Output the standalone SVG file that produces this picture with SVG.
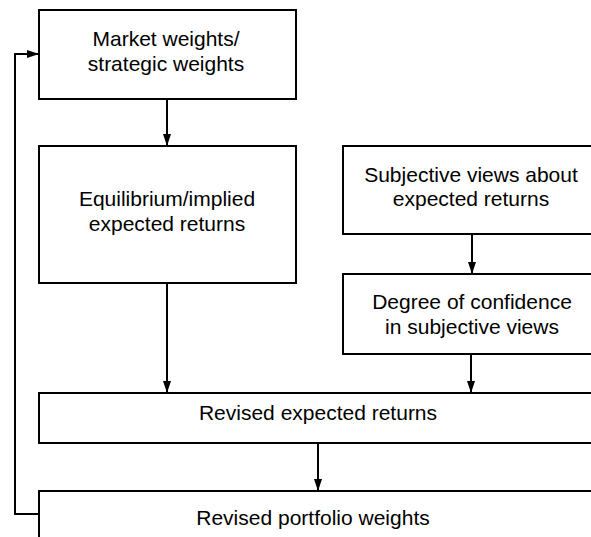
<svg xmlns="http://www.w3.org/2000/svg" width="591" height="537" viewBox="0 0 591 537">
<style>
.box{fill:#fff;stroke:#000;stroke-width:2}
.t{font-family:"Liberation Sans",Arial,sans-serif;font-size:21px;fill:#000;text-anchor:middle}
.c{fill:none;stroke:#000;stroke-width:2}
</style>
<defs>
<marker id="ah" markerUnits="userSpaceOnUse" markerWidth="13" markerHeight="9" refX="12" refY="4" orient="auto">
<path d="M0,0 L12,4 L0,8 z" fill="#000"/>
</marker>
</defs>
<rect width="591" height="537" fill="#fff"/>
<g id="market">
<rect class="box" x="39" y="10" width="257" height="89"/>
<text class="t" x="166" y="46">Market weights/</text>
<text class="t" x="166" y="71">strategic weights</text>
</g>
<g id="equilibrium">
<rect class="box" x="39" y="146" width="257" height="137"/>
<text class="t" x="167" y="206">Equilibrium/implied</text>
<text class="t" x="167" y="231">expected returns</text>
</g>
<g id="subjective">
<rect class="box" x="343" y="146" width="258" height="88"/>
<text class="t" x="471" y="182">Subjective views about</text>
<text class="t" x="471" y="206">expected returns</text>
</g>
<g id="confidence">
<rect class="box" x="343" y="274" width="258" height="80"/>
<text class="t" x="472" y="309">Degree of confidence</text>
<text class="t" x="472" y="334">in subjective views</text>
</g>
<g id="revised-returns">
<rect class="box" x="39" y="393" width="559" height="50"/>
<text class="t" x="318" y="420">Revised expected returns</text>
</g>
<g id="revised-weights">
<rect class="box" x="39" y="491" width="559" height="60"/>
<text class="t" x="313" y="525">Revised portfolio weights</text>
</g>
<g id="connectors">
<line class="c" x1="167" y1="99" x2="167" y2="146" marker-end="url(#ah)"/>
<line class="c" x1="167" y1="283" x2="167" y2="393" marker-end="url(#ah)"/>
<line class="c" x1="472" y1="234" x2="472" y2="274" marker-end="url(#ah)"/>
<line class="c" x1="471" y1="354" x2="471" y2="393" marker-end="url(#ah)"/>
<line class="c" x1="318" y1="443" x2="318" y2="491" marker-end="url(#ah)"/>
<polyline class="c" points="39,514 15,514 15,54 39,54" marker-end="url(#ah)"/>
</g>
</svg>
